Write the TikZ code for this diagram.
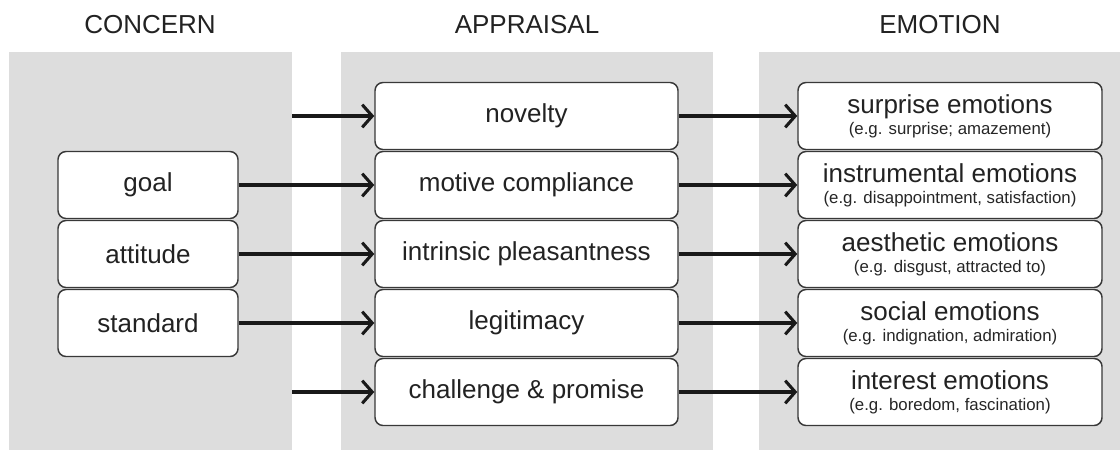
\documentclass[tikz,border=0pt]{standalone}
\usepackage{fontspec}
\setmainfont{Liberation Sans}
\usetikzlibrary{arrows.meta}
\definecolor{panelgray}{HTML}{DDDDDD}
\definecolor{ink}{HTML}{222222}
\definecolor{edgeline}{HTML}{383838}
\newcommand{\mainsize}{\fontsize{19.5}{22}\selectfont}
\newcommand{\exsize}{\fontsize{12.6}{13}\selectfont\color{black!85}}
\begin{document}
\begin{tikzpicture}[x=0.75pt,y=-0.75pt,
  panel/.style={fill=panelgray,draw=none},
  head/.style={font=\mainsize,text=ink},
  box/.style={draw=edgeline,line width=1.1pt,rounded corners=6pt,fill=white,
    minimum height=50.25pt,inner sep=0pt,text=ink,font=\mainsize,align=center},
  cbox/.style={box,minimum width=135pt},
  abox/.style={box,minimum width=227.25pt},
  ebox/.style={box,minimum width=228pt},
  link/.style={draw=black!90,line width=2.3pt,
    -{Straight Barb[length=7.5pt,width=17pt]}}]
\useasboundingbox (0,0) rectangle (1120,450);

% column panels
\fill[panel] (9,52) rectangle (292,450);
\fill[panel] (341,52) rectangle (713,450);
\fill[panel] (759,52) rectangle (1120,450);

% column headings
\node[head] (hc) at (150,25) {CONCERN};
\node[head] (ha) at (527,25) {APPRAISAL};
\node[head] (he) at (940,25) {EMOTION};

% concerns
\node[cbox] (goal) at (148,185) {goal};
\node[cbox] (att)  at (148,254) {attitude};
\node[cbox] (std)  at (148,323) {standard};

% appraisals
\node[abox] (nov) at (526.5,116) {novelty};
\node[abox] (mot) at (526.5,185) {motive compliance};
\node[abox] (int) at (526.5,254) {intrinsic pleasantness};
\node[abox] (leg) at (526.5,323) {legitimacy};
\node[abox] (chal) at (526.5,392) {challenge \& promise};

% emotions
\node[ebox] (sur) at (950,116) {surprise emotions\\[-6pt]{\exsize (e.g. surprise; amazement)}};
\node[ebox] (ins) at (950,185) {instrumental emotions\\[-6pt]{\exsize (e.g. disappointment, satisfaction)}};
\node[ebox] (aes) at (950,254) {aesthetic emotions\\[-6pt]{\exsize (e.g. disgust, attracted to)}};
\node[ebox] (soc) at (950,323) {social emotions\\[-6pt]{\exsize (e.g. indignation, admiration)}};
\node[ebox] (ist) at (950,392) {interest emotions\\[-6pt]{\exsize (e.g. boredom, fascination)}};

% free starts of the two unlinked appraisal arrows
\coordinate (novIn) at (292,116);
\coordinate (chalIn) at (292,392);

% concern -> appraisal
\draw[link] (novIn) -- (nov.west);
\draw[link] (goal.east) -- (mot.west);
\draw[link] (att.east) -- (int.west);
\draw[link] (std.east) -- (leg.west);
\draw[link] (chalIn) -- (chal.west);

% appraisal -> emotion
\draw[link] (nov.east) -- (sur.west);
\draw[link] (mot.east) -- (ins.west);
\draw[link] (int.east) -- (aes.west);
\draw[link] (leg.east) -- (soc.west);
\draw[link] (chal.east) -- (ist.west);
\end{tikzpicture}
\end{document}
